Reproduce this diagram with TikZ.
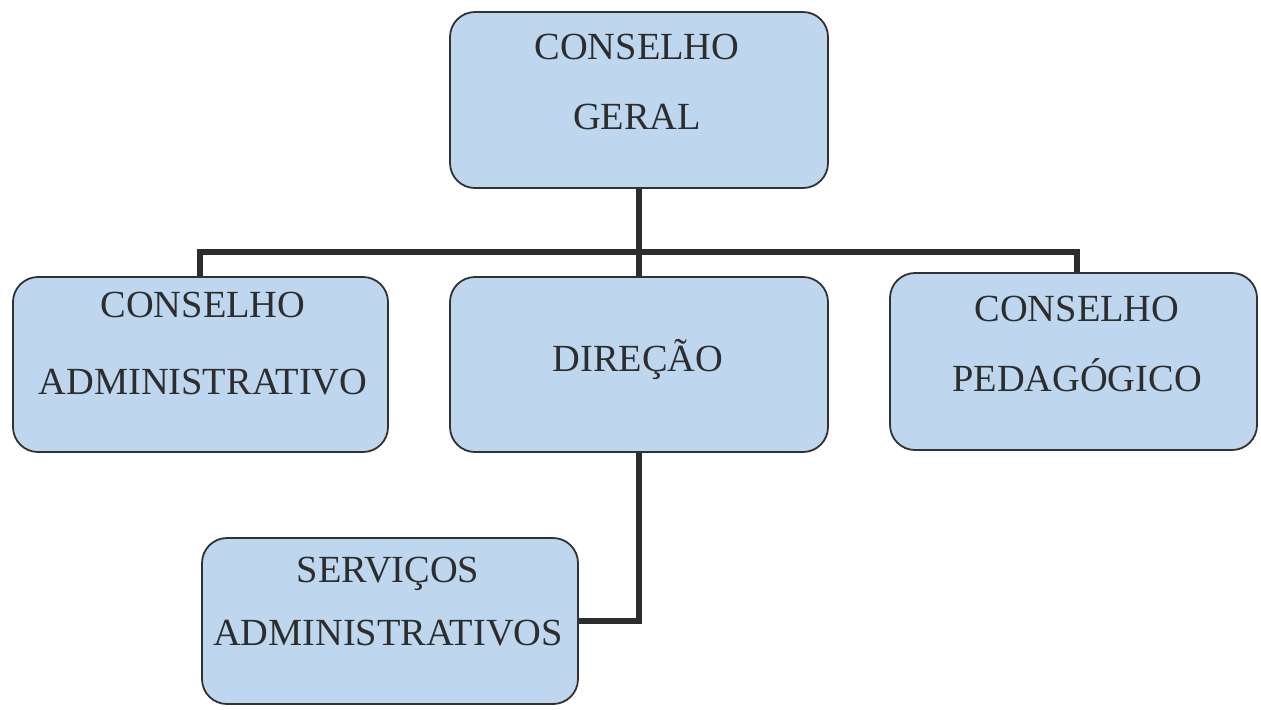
\documentclass[tikz,border=0pt]{standalone}
\usepackage{fontspec}
\setmainfont{Liberation Serif}
\definecolor{boxfill}{RGB}{190,215,238}
\definecolor{boxline}{RGB}{50,50,50}
\definecolor{txt}{RGB}{45,45,45}
\definecolor{conn}{RGB}{45,45,45}
\tikzset{
  orgbox/.style={draw=boxline, line width=0.9pt, fill=boxfill, rounded corners=12.5pt, inner sep=0pt},
  lbl/.style={anchor=base, inner sep=0pt, text=txt, font=\fontsize{19.2}{23}\selectfont},
  link/.style={draw=conn, line width=3.2pt, line join=miter}
}
\begin{document}
\begin{tikzpicture}[x=0.5pt, y=-0.5pt]
\useasboundingbox (0,0) rectangle (1261,709);
% boxes
\node[orgbox, minimum width=189pt, minimum height=88pt] (geral) at (639,100) {};
\node[orgbox, minimum width=187.5pt, minimum height=87.5pt] (admin) at (200.5,364.5) {};
\node[orgbox, minimum width=189pt, minimum height=87.5pt] (dir) at (639,364.5) {};
\node[orgbox, minimum width=183.5pt, minimum height=88.5pt] (ped) at (1073.5,361.5) {};
\node[orgbox, minimum width=188pt, minimum height=83pt] (serv) at (390,621) {};
% texts
\node[lbl] (t1a) at (637,59) {CONSELHO};
\node[lbl] (t1b) at (637,129) {GERAL};
\node[lbl] (t2a) at (203,317) {CONSELHO};
\node[lbl] (t2b) at (203,394) {ADMINISTRATIVO};
\node[lbl] (t3) at (638,371) {DIREÇÃO};
\node[lbl] (t4a) at (1077,321) {CONSELHO};
\node[lbl] (t4b) at (1077,391) {PEDAGÓGICO};
\node[lbl] (t5a) at (388,582) {SERVIÇOS};
\node[lbl] (t5b) at (388,645) {ADMINISTRATIVOS};
% connectors
\coordinate (busL) at (200,252);
\coordinate (busR) at (1077,252);
\draw[link] (geral.south) -- (dir.north);
\draw[link] (busL |- admin.north) -- (busL) -- (busR) -- (busR |- ped.north);
\draw[link] (dir.south) |- (serv.east);
\end{tikzpicture}
\end{document}
